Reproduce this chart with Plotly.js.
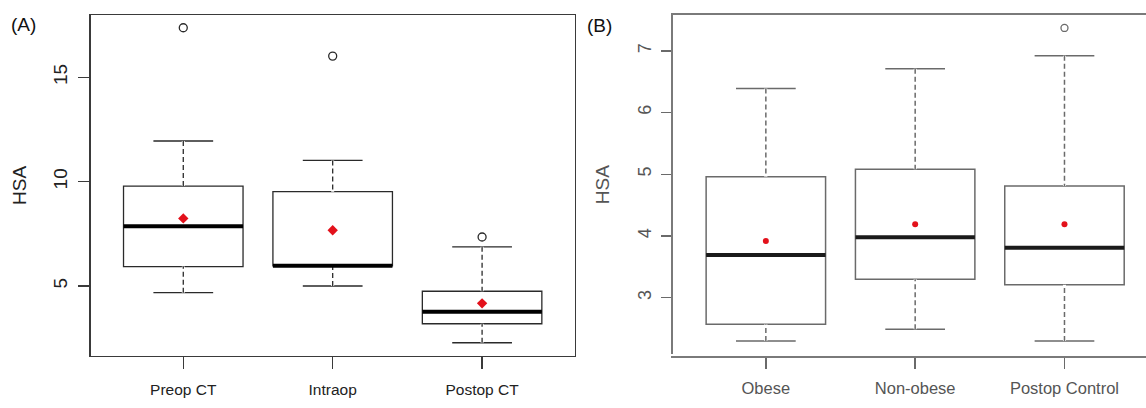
<!DOCTYPE html>
<html>
<head>
<meta charset="utf-8">
<script src="https://cdn.plot.ly/plotly-3.0.1.min.js"></script>
<style>html,body{margin:0;padding:0;background:#fff;}#chart{width:1146px;height:408px;}</style>
</head>
<body>
<div id="chart"></div>
<script>
// ---- Panel A data ----
const categoriesA = ['Preop CT', 'Intraop', 'Postop CT'];
const lowerA  = [4.68, 5.00, 2.28];
const q1A     = [5.93, 5.97, 3.19];
const medianA = [7.87, 5.97, 3.77];
const q3A     = [9.79, 9.52, 4.75];
const upperA  = [11.95, 11.02, 6.88];
const meanA   = [8.24, 7.67, 4.17];
const outlierCatA = ['Preop CT', 'Intraop', 'Postop CT'];
const outlierValA = [17.38, 16.02, 7.35];
const ticksA = [5, 10, 15];

// ---- Panel B data ----
const categoriesB = ['Obese', 'Non-obese', 'Postop Control'];
const lowerB  = [2.30, 2.49, 2.30];
const q1B     = [2.57, 3.30, 3.21];
const medianB = [3.69, 3.98, 3.81];
const q3B     = [4.96, 5.08, 4.81];
const upperB  = [6.39, 6.71, 6.92];
const meanB   = [3.92, 4.19, 4.19];
const outlierCatB = ['Postop Control'];
const outlierValB = [7.37];
const ticksB = [3, 4, 5, 6, 7];

const BOX_W = 0.8;

function panel(cats, lo, q1, med, q3, up, mean, oCat, oVal, xa, ya, st) {
  const idx = cats.map((c, i) => i);
  const traces = [];
  traces.push({
    type: 'box', xaxis: xa, yaxis: ya, x: idx,
    q1: q1, median: med, q3: q3, lowerfence: lo, upperfence: up,
    width: BOX_W, whiskerwidth: 0.5, boxpoints: false,
    fillcolor: 'rgba(255,255,255,0)',
    line: {color: st.line, width: st.boxW},
    hoverinfo: 'skip', showlegend: false
  });
  // dashed whiskers (cover the solid ones)
  const wx = [], wy = [];
  idx.forEach(i => {
    wx.push(i, i, null, i, i, null);
    wy.push(up[i], q3[i], null, lo[i], q1[i], null);
  });
  traces.push({type: 'scatter', mode: 'lines', xaxis: xa, yaxis: ya, x: wx, y: wy,
    line: {color: '#ffffff', width: 3}, hoverinfo: 'skip', showlegend: false});
  traces.push({type: 'scatter', mode: 'lines', xaxis: xa, yaxis: ya, x: wx, y: wy,
    line: {color: st.line, width: st.boxW, dash: '5px,3px'}, hoverinfo: 'skip', showlegend: false});
  // thick medians
  const mx = [], my = [];
  idx.forEach(i => {
    mx.push(i - BOX_W / 2, i + BOX_W / 2, null);
    my.push(med[i], med[i], null);
  });
  traces.push({type: 'scatter', mode: 'lines', xaxis: xa, yaxis: ya, x: mx, y: my,
    line: {color: st.median, width: st.medW}, hoverinfo: 'skip', showlegend: false});
  // means
  traces.push({type: 'scatter', mode: 'markers', xaxis: xa, yaxis: ya, x: idx, y: mean,
    marker: {symbol: st.meanSym, size: st.meanSize, color: '#e3111b'}, hoverinfo: 'skip', showlegend: false});
  // outliers
  traces.push({type: 'scatter', mode: 'markers', xaxis: xa, yaxis: ya,
    x: oCat.map(c => cats.indexOf(c)), y: oVal,
    marker: {symbol: 'circle-open', size: st.outSize, color: st.line, line: {width: 1.3, color: st.line}},
    hoverinfo: 'skip', showlegend: false});
  return traces;
}

const stA = {line: '#2a2a2a', boxW: 1.3, median: '#000000', medW: 4, meanSym: 'diamond', meanSize: 8, outSize: 8};
const stB = {line: '#6a6a6a', boxW: 1.5, median: '#1a1a1a', medW: 4, meanSym: 'circle', meanSize: 6, outSize: 7};

const data = [].concat(
  panel(categoriesA, lowerA, q1A, medianA, q3A, upperA, meanA, outlierCatA, outlierValA, 'x', 'y', stA),
  panel(categoriesB, lowerB, q1B, medianB, q3B, upperB, meanB, outlierCatB, outlierValB, 'x2', 'y2', stB)
);

const sans = 'Liberation Sans, Arial, sans-serif';

const layout = {
  width: 1146, height: 408,
  margin: {l: 0, r: 0, t: 0, b: 0},
  paper_bgcolor: '#ffffff', plot_bgcolor: '#ffffff',
  showlegend: false,
  xaxis: {
    domain: [0.0791, 0.5015], range: [-0.62, 2.62], automargin: false,
    tickvals: [0, 1, 2], ticktext: categoriesA,
    showgrid: false, zeroline: false,
    showline: true, mirror: true, linecolor: '#3a3a3a', linewidth: 1.5,
    ticks: 'outside', ticklen: 12, tickcolor: '#3a3a3a', tickwidth: 1.3,
    ticklabelstandoff: 7,
    tickfont: {family: sans, size: 15.5, color: '#222222'}
  },
  yaxis: {
    domain: [0.1282, 0.9632], range: [1.66, 17.99], automargin: false,
    tickvals: ticksA, ticktext: ticksA.map(String), tickangle: -90,
    showgrid: false, zeroline: false,
    showline: true, mirror: true, linecolor: '#3a3a3a', linewidth: 1.5,
    ticks: 'outside', ticklen: 11, tickcolor: '#3a3a3a', tickwidth: 1.3,
    ticklabelstandoff: 4,
    tickfont: {family: sans, size: 19, color: '#222222'},
    title: {text: 'HSA', font: {family: sans, size: 19, color: '#222222'}, standoff: 18}
  },
  xaxis2: {
    domain: [0.5875, 1.0], range: [-0.62, 2.546], automargin: false,
    tickvals: [0, 1, 2], ticktext: categoriesB,
    showgrid: false, zeroline: false,
    showline: true, mirror: true, linecolor: '#7a7a7a', linewidth: 2,
    ticks: 'outside', ticklen: 11, tickcolor: '#6a6a6a', tickwidth: 1.5,
    ticklabelstandoff: 6,
    tickfont: {family: sans, size: 16.5, color: '#555555'}
  },
  yaxis2: {
    domain: [0.1316, 0.9632], range: [2.083, 7.58], automargin: false,
    anchor: 'x2',
    tickvals: ticksB, ticktext: ticksB.map(String), tickangle: -90,
    showgrid: false, zeroline: false,
    showline: true, mirror: false, linecolor: '#7a7a7a', linewidth: 2,
    ticks: 'outside', ticklen: 10, tickcolor: '#6a6a6a', tickwidth: 1.5,
    ticklabelstandoff: 3,
    tickfont: {family: sans, size: 18, color: '#555555'},
    title: {text: 'HSA', font: {family: sans, size: 19, color: '#555555'}, standoff: 20}
  },
  annotations: [
    {text: '(A)', xref: 'paper', yref: 'paper', x: 23 / 1146, y: 1 - 24 / 408, xanchor: 'center', yanchor: 'middle',
     showarrow: false, font: {family: sans, size: 19, color: '#111111'}},
    {text: '(B)', xref: 'paper', yref: 'paper', x: 599 / 1146, y: 1 - 25 / 408, xanchor: 'center', yanchor: 'middle',
     showarrow: false, font: {family: sans, size: 19, color: '#111111'}}
  ]
};

Plotly.newPlot('chart', data, layout, {displayModeBar: false, staticPlot: true});
</script>
</body>
</html>
